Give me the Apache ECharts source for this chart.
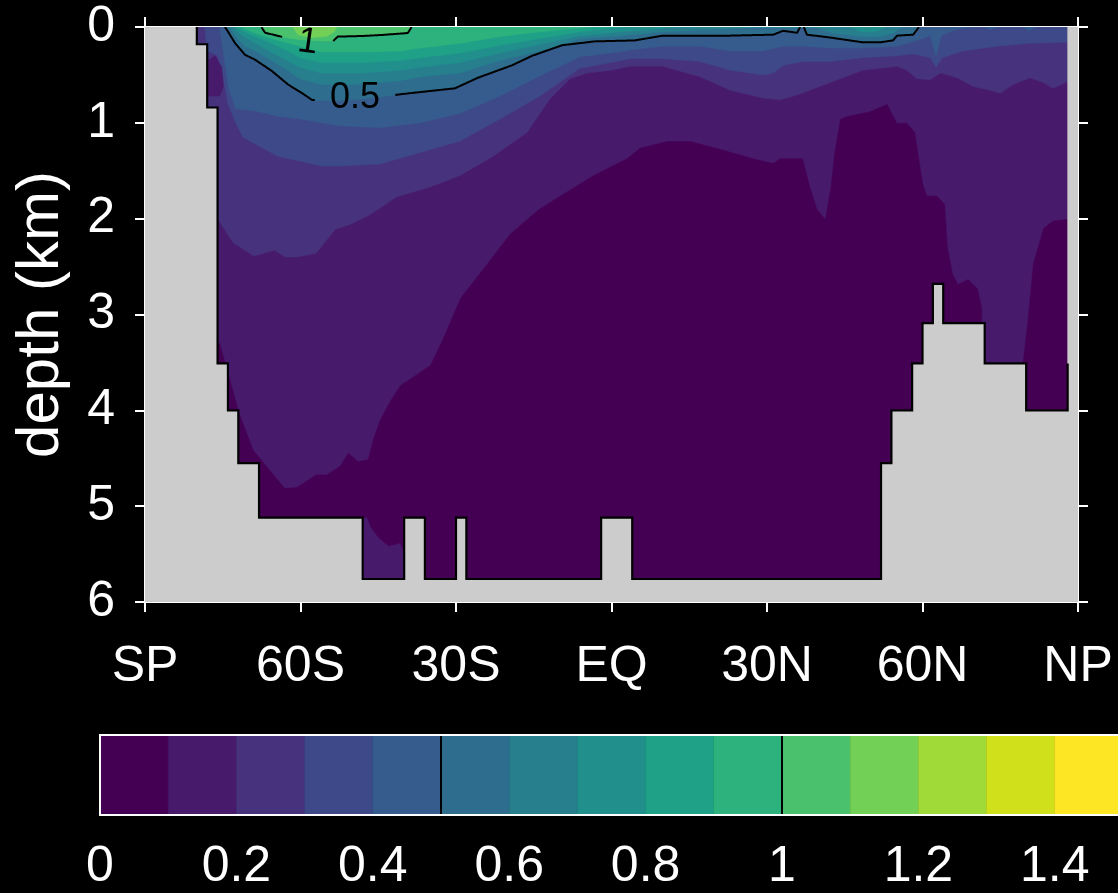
<!DOCTYPE html>
<html>
<head>
<meta charset="utf-8">
<script src="https://cdn.jsdelivr.net/npm/echarts@6/dist/echarts.min.js"></script>
<style>
  html, body { margin: 0; padding: 0; background: #000; }
  #chart { width: 1118px; height: 893px; }
</style>
</head>
<body>
<div id="chart"></div>
<script>
// ---- axes ----
const latTicks = [-90, -60, -30, 0, 30, 60, 90];
const latTickLabels = ['SP', '60S', '30S', 'EQ', '30N', '60N', 'NP'];
const depthTicks = [0, 1, 2, 3, 4, 5, 6];

// ---- contour levels and colour bar ----
const levelBounds = [0, 0.1, 0.2, 0.3, 0.4, 0.5, 0.6, 0.7, 0.8, 0.9, 1.0, 1.1, 1.2, 1.3, 1.4, 1.5];
const colorbarTicks = [0, 0.2, 0.4, 0.6, 0.8, 1.0, 1.2, 1.4];
const contourLevels = [0.5, 1.0];

// ---- sea-floor (model cells): latitude edges and bottom depth (km) ----
const bottomEdges = [-80, -78, -76, -74, -72, -68, -48, -40, -36, -30, -28, -2, 4, 52, 54, 58, 60, 62, 64, 72, 80, 88];
const bottomDepth = [0.18, 0.84, 3.51, 4.0, 4.55, 5.12, 5.76, 5.12, 5.76, 5.12, 5.76, 5.12, 5.76, 4.55, 4.0, 3.51, 3.09, 2.68, 3.09, 3.51, 4.0];
const wallLineTop = 3.51; // north wall outline stops here

// ---- iso-depths: depth (km) of each level's lower edge, by latitude ----
const iso01 = [[-80,6],[-76.5,6],[-76,3.3],[-75.5,3.3],[-71.7,4.04],[-69,4.42],[-65,4.68],[-63,4.81],[-60.7,4.8],[-57,4.67],[-55,4.67],[-52.4,4.58],[-50.8,4.44],[-48.9,4.53],[-47,4.51],[-46,4.3],[-44.7,4.1],[-42.7,3.9],[-40.8,3.74],[-35,3.53],[-32.7,3.27],[-29.2,2.83],[-24,2.47],[-19.6,2.16],[-14,1.9],[-9.9,1.76],[-3.6,1.55],[3,1.37],[5.5,1.26],[10.7,1.19],[15.2,1.19],[20.9,1.27],[27.3,1.37],[31.2,1.42],[32.5,1.37],[36.95,1.37],[38.3,1.66],[39.7,1.9],[41.2,2.0],[42.3,1.65],[43,1.3],[44.1,0.96],[45.4,0.93],[49.9,0.88],[53.2,0.8],[55.1,1.0],[57,1.0],[58.6,1.1],[60.1,1.63],[60.9,1.76],[62.8,1.76],[64.35,1.85],[64.9,2.3],[65.9,2.58],[66.9,2.68],[68.8,2.63],[70.7,2.73],[71.5,2.93],[71.9,6],[79.1,6],[79.3,3.51],[80.4,2.99],[81.3,2.47],[83.3,2.1],[85.2,2.02],[88,2.0]];
const iso02 = [[-80,6],[-76.2,6],[-76,2.0],[-73,2.25],[-69,2.39],[-65,2.33],[-63,2.4],[-60.7,2.4],[-57,2.36],[-53.3,2.11],[-50.4,2.06],[-46.6,1.96],[-41.4,1.77],[-35,1.67],[-29.2,1.55],[-22.9,1.35],[-16.3,1.1],[-11.9,0.75],[-8,0.54],[-4.7,0.48],[0,0.45],[3.6,0.41],[9.9,0.41],[17.1,0.52],[22.9,0.66],[29.2,0.74],[32.5,0.76],[35.8,0.71],[42.2,0.58],[48.5,0.45],[55.1,0.41],[57,0.45],[58.9,0.54],[61.5,0.55],[63.5,0.48],[66.7,0.53],[69.75,0.62],[73,0.66],[75,0.69],[77.5,0.6],[80.75,0.53],[83.3,0.58],[85.2,0.64],[88,0.57]];
const iso03 = [[-80,0],[-78.5,0],[-78,0.25],[-76,0.3],[-75,0.5],[-74,0.8],[-72.5,1.0],[-71.1,1.15],[-68.4,1.23],[-64.3,1.35],[-60.1,1.4],[-56,1.45],[-52.4,1.45],[-44.7,1.43],[-36.9,1.31],[-29.2,1.19],[-21.5,0.96],[-13.8,0.72],[-6.1,0.43],[0,0.37],[3.6,0.33],[9.9,0.33],[17.1,0.36],[22.9,0.45],[29.2,0.5],[31.2,0.48],[33.1,0.4],[37,0.36],[42.2,0.36],[48.5,0.32],[55,0.3],[58.2,0.28],[61.5,0.32],[62.6,0.42],[63.8,0.32],[67.8,0.25],[74.4,0.2],[80.75,0.17],[88,0.16]];
const iso04 = [[-75.6,0],[-74.8,0.3],[-73.8,0.65],[-72.5,0.85],[-68.4,0.88],[-64.3,0.93],[-60.1,0.96],[-52.4,1.03],[-44.7,1.05],[-36.9,1.0],[-29.2,0.9],[-21.5,0.72],[-13.8,0.51],[-6.1,0.31],[0,0.27],[3.6,0.24],[9.9,0.2],[17.1,0.2],[22.9,0.25],[29.2,0.25],[33,0.2],[37.3,0.2],[42.2,0.22],[48.5,0.22],[55.1,0.2],[58.9,0.14],[61.5,0.09],[62.6,0.3],[63.6,0.09],[65.3,0.05],[67,0.02],[70,0],[72,0],[73,0.03],[74.5,0],[79.5,0],[80.5,0.04],[82,0]];
const iso05 = [[-74.6,0],[-74.2,0.03],[-72.6,0.17],[-70.7,0.29],[-68.8,0.34],[-65.5,0.46],[-62.4,0.6],[-59.7,0.69],[-57.8,0.76],[-54.3,0.77],[-49.5,0.76],[-44.7,0.73],[-40.4,0.7],[-35.4,0.67],[-30.2,0.64],[-25.8,0.53],[-19.2,0.4],[-15.3,0.3],[-9.5,0.19],[-3.2,0.15],[4.5,0.14],[9.9,0.09],[22.9,0.09],[31.2,0.08],[33.1,0.04],[35.8,0.06],[36.4,0],[37.1,0],[37.7,0.08],[42.2,0.11],[48.5,0.16],[51.8,0.16],[54.3,0.14],[55.1,0.09],[58.2,0.08],[58.9,0.03],[59.3,0]];
const iso06 = [[-73.8,0],[-72.5,0.1],[-70.7,0.2],[-68.4,0.26],[-64.3,0.39],[-60.1,0.54],[-56,0.6],[-50,0.6],[-44.7,0.58],[-40.8,0.56],[-36.9,0.52],[-29.2,0.48],[-25.8,0.42],[-21.5,0.35],[-13.8,0.25],[-6.1,0.12],[0,0.1],[4,0.08],[9.9,0.05],[17.1,0.03],[22.9,0.02],[28,0],[39.5,0],[42.2,0.06],[48.5,0.1],[51.8,0.1],[54.5,0.06],[56,0]];
const iso07 = [[-73,0],[-71.5,0.08],[-68.4,0.18],[-64.3,0.3],[-60.1,0.42],[-56,0.48],[-48,0.48],[-40.8,0.45],[-36.9,0.42],[-29.2,0.37],[-21.5,0.27],[-13.8,0.18],[-6.1,0.09],[0,0.06],[4.5,0.04],[9,0.02],[12,0],[46,0],[48,0.05],[51,0.05],[53,0]];
const iso08 = [[-72.5,0],[-70,0.07],[-66,0.16],[-62,0.26],[-60.1,0.32],[-56,0.37],[-48,0.37],[-40.8,0.35],[-36.9,0.32],[-29.2,0.27],[-21.5,0.19],[-13.8,0.12],[-6.1,0.05],[-2,0.02],[2,0]];
const iso09 = [[-71.5,0],[-69,0.06],[-65,0.13],[-60.1,0.2],[-56,0.26],[-48,0.26],[-40.8,0.25],[-36.9,0.22],[-29.2,0.17],[-21.5,0.1],[-13.8,0.05],[-8,0.02],[-4,0]];
const iso10 = [[-67.5,0],[-67.2,0.03],[-66.8,0.06],[-63,0.11],[-60.5,0.13],[-58,0.14],[-55.5,0.145],[-53.7,0.146],[-52.8,0.1],[-48.1,0.094],[-44.3,0.083],[-39.3,0.063],[-38.9,0.03],[-38.6,0]];
const iso11 = [[-61.5,0],[-60.5,0.08],[-58,0.11],[-55,0.1],[-53.5,0.05],[-53,0]];
const isoDepths = [iso01, iso02, iso03, iso04, iso05, iso06, iso07, iso08, iso09, iso10, iso11];

// ---- isolated pockets that sit below a higher band: [band index, outline] ----
const pocketBottom = [[-48,5.12],[-47.2,5.12],[-46.5,5.22],[-45,5.33],[-43,5.42],[-40.8,5.39],[-40.2,5.47],[-40,5.76],[-48,5.76]];
const pocketWall = [[-77.8,0.35],[-76.5,0.3],[-75.2,0.42],[-74.9,0.62],[-75.6,0.72],[-77.8,0.72]];
const pockets = [[1, pocketBottom], [1, pocketWall]];

// ---- where the contour labels sit (lat, depth, tilt in degrees) ----
const contourLabelPlacement = [[-49.5, 0.74, 0], [-58.6, 0.16, -8]];

// ---- styling ----
const FONT = 'Liberation Sans, Arial, Helvetica, sans-serif';
const palette = ['#440154', '#481a6c', '#47327e', '#3e4989', '#365c8d', '#2e6d8e', '#277f8e', '#21908d',
                 '#1fa187', '#2db27d', '#4ac16d', '#73d056', '#a0da39', '#d0e11c', '#fde725'];
const LAND = '#cccccc';
const WHITE = '#ffffff';

function measure(text, size) {
  const ctx = document.createElement('canvas').getContext('2d');
  ctx.font = size + 'px ' + FONT;
  return ctx.measureText(text).width;
}

// ---- build the drawing layers for the section ----
const layers = [];
layers.push({ kind: 'fill', color: palette[0], points: [[-90, 0], [90, 0], [90, 6], [-90, 6]] });
isoDepths.forEach((prof, i) => {
  const pts = [[prof[0][0], 0]].concat(prof, [[prof[prof.length - 1][0], 0]]);
  layers.push({ kind: 'fill', color: palette[i + 1], points: pts });
});
pockets.forEach(([band, outline]) => layers.push({ kind: 'fill', color: palette[band], points: outline }));

const outline = [[bottomEdges[0], 0]];
for (let i = 0; i < bottomDepth.length; i++) {
  outline.push([bottomEdges[i], bottomDepth[i]], [bottomEdges[i + 1], bottomDepth[i]]);
}
const landPoly = [[-90, 0]].concat(outline, [[bottomEdges[bottomEdges.length - 1], 0], [90, 0], [90, 6], [-90, 6]]);
layers.push({ kind: 'fill', color: LAND, points: landPoly });
layers.push({ kind: 'line', points: outline.concat([[bottomEdges[bottomEdges.length - 1], wallLineTop]]) });

const labelFont = 36;
const contourLabels = contourLevels.map((lv, i) => ({
  text: String(lv),
  lat: contourLabelPlacement[i][0],
  depth: contourLabelPlacement[i][1],
  tilt: contourLabelPlacement[i][2]
}));
contourLevels.forEach(lv => {
  const k = Math.round(lv * 10);
  layers.push({ kind: 'contour', profile: isoDepths[k - 1] });
});
contourLabels.forEach(lb => layers.push({ kind: 'label', label: lb }));

function contourRuns(api, profile) {
  const boxes = contourLabels.map(l => {
    const c = api.coord([l.lat, l.depth]);
    return { x: c[0], y: c[1], w: measure(l.text, labelFont) / 2 + 15, h: 22 };
  });
  const inGap = p => boxes.some(b => Math.abs(p[0] - b.x) < b.w && Math.abs(p[1] - b.y) < b.h);
  const runs = [];
  let cur = [];
  const flush = () => { if (cur.length > 1) runs.push(cur); cur = []; };
  for (let i = 0; i < profile.length - 1; i++) {
    const a = profile[i], b = profile[i + 1];
    if (a[1] <= 0 && b[1] <= 0) { flush(); continue; }
    const pa = api.coord(a), pb = api.coord(b);
    const n = Math.max(1, Math.ceil(Math.hypot(pb[0] - pa[0], pb[1] - pa[1])));
    for (let s = 0; s <= n; s++) {
      const p = [pa[0] + (pb[0] - pa[0]) * s / n, pa[1] + (pb[1] - pa[1]) * s / n];
      if (inGap(p)) flush(); else cur.push(p);
    }
  }
  flush();
  return runs;
}

function renderSection(params, api) {
  const layer = layers[params.dataIndex];
  const z2 = params.dataIndex;
  if (layer.kind === 'fill') {
    return {
      type: 'polygon', z2,
      shape: { points: layer.points.map(p => api.coord(p)) },
      style: { fill: layer.color, stroke: layer.color, lineWidth: 0.5 }
    };
  }
  if (layer.kind === 'line') {
    return {
      type: 'polyline', z2,
      shape: { points: layer.points.map(p => api.coord(p)) },
      style: { stroke: '#000', lineWidth: 2.2, fill: null, lineJoin: 'miter' }
    };
  }
  if (layer.kind === 'contour') {
    return {
      type: 'group',
      children: contourRuns(api, layer.profile).map(run => ({
        type: 'polyline', z2,
        shape: { points: run },
        style: { stroke: '#000', lineWidth: 2, fill: null, lineJoin: 'round' }
      }))
    };
  }
  if (layer.kind === 'label') {
    const c = api.coord([layer.label.lat, layer.label.depth]);
    return {
      type: 'text', z2,
      x: c[0], y: c[1],
      rotation: layer.label.tilt * Math.PI / 180,
      style: {
        text: layer.label.text, fill: '#000',
        fontSize: labelFont, fontFamily: FONT,
        align: 'center', verticalAlign: 'middle'
      }
    };
  }
  return null;
}

// ---- colour bar ----
const cbarItems = palette.map((c, i) => ({ kind: 'cell', lo: levelBounds[i], hi: levelBounds[i + 1], color: c }))
  .concat(contourLevels.map(v => ({ kind: 'mark', v })))
  .concat([{ kind: 'frame' }]);

function renderColorbar(params, api) {
  const it = cbarItems[params.dataIndex];
  const z2 = params.dataIndex;
  if (it.kind === 'cell') {
    const p0 = api.coord([it.lo, 1]), p1 = api.coord([it.hi, 0]);
    return { type: 'rect', z2, shape: { x: p0[0], y: p0[1], width: p1[0] - p0[0], height: p1[1] - p0[1] },
             style: { fill: it.color, stroke: it.color, lineWidth: 0.5 } };
  }
  if (it.kind === 'mark') {
    const p0 = api.coord([it.v, 1]), p1 = api.coord([it.v, 0]);
    return { type: 'line', z2, shape: { x1: p0[0], y1: p0[1], x2: p1[0], y2: p1[1] },
             style: { stroke: '#000', lineWidth: 2 } };
  }
  const p0 = api.coord([levelBounds[0], 1]), p1 = api.coord([levelBounds[levelBounds.length - 1], 0]);
  return { type: 'rect', z2, shape: { x: p0[0], y: p0[1], width: p1[0] - p0[0], height: p1[1] - p0[1] },
           style: { fill: null, stroke: WHITE, lineWidth: 2 } };
}

const frameLine = { show: true, onZero: false, lineStyle: { color: WHITE, width: 2 } };
const frameTick = { show: true, inside: false, length: 10, lineStyle: { color: WHITE, width: 2 } };
const tickText = { color: WHITE, fontSize: 50, fontFamily: FONT };

const chart = echarts.init(document.getElementById('chart'), null, { renderer: 'canvas' });
chart.setOption({
  backgroundColor: '#000000',
  animation: false,
  grid: [
    { left: 145, top: 27, width: 933, height: 575, containLabel: false, outerBoundsMode: 'none' },
    { left: 100, top: 735, width: 1023, height: 80, containLabel: false, outerBoundsMode: 'none' }
  ],
  xAxis: [
    {
      gridIndex: 0, type: 'value', min: -90, max: 90, interval: 30, position: 'bottom',
      axisLine: frameLine,
      axisTick: Object.assign({ customValues: latTicks }, frameTick),
      axisLabel: Object.assign({ margin: 40, customValues: latTicks,
        formatter: v => latTickLabels[latTicks.indexOf(v)] }, tickText),
      splitLine: { show: false }
    },
    {
      gridIndex: 0, type: 'value', min: -90, max: 90, interval: 30, position: 'top',
      axisLine: frameLine,
      axisTick: Object.assign({ customValues: latTicks }, frameTick),
      axisLabel: { show: false }, splitLine: { show: false }
    },
    {
      gridIndex: 1, type: 'value', min: 0, max: 1.5, position: 'bottom',
      axisLine: { show: false }, axisTick: { show: false },
      axisLabel: Object.assign({ margin: 27, customValues: colorbarTicks,
        formatter: v => String(v) }, tickText),
      splitLine: { show: false }
    }
  ],
  yAxis: [
    {
      gridIndex: 0, type: 'value', min: 0, max: 6, interval: 1, inverse: true, position: 'left',
      name: 'depth (km)', nameLocation: 'middle', nameRotate: 90, nameGap: 74,
      nameTextStyle: { color: WHITE, fontSize: 60, fontFamily: FONT },
      axisLine: frameLine,
      axisTick: Object.assign({ customValues: depthTicks }, frameTick),
      axisLabel: Object.assign({ margin: 30, customValues: depthTicks }, tickText),
      splitLine: { show: false }
    },
    {
      gridIndex: 0, type: 'value', min: 0, max: 6, interval: 1, inverse: true, position: 'right',
      axisLine: frameLine,
      axisTick: Object.assign({ customValues: depthTicks }, frameTick),
      axisLabel: { show: false }, splitLine: { show: false }
    },
    { gridIndex: 1, type: 'value', min: 0, max: 1, show: false }
  ],
  series: [
    {
      type: 'custom', xAxisIndex: 0, yAxisIndex: 0, clip: true, silent: true, z: 1,
      data: layers.map((l, i) => [0, 0, i]), encode: { x: 0, y: 1 },
      renderItem: renderSection
    },
    {
      type: 'custom', xAxisIndex: 2, yAxisIndex: 2, clip: false, silent: true, z: 1,
      data: cbarItems.map((it, i) => [0, 0, i]), encode: { x: 0, y: 1 },
      renderItem: renderColorbar
    }
  ]
});
</script>
</body>
</html>
